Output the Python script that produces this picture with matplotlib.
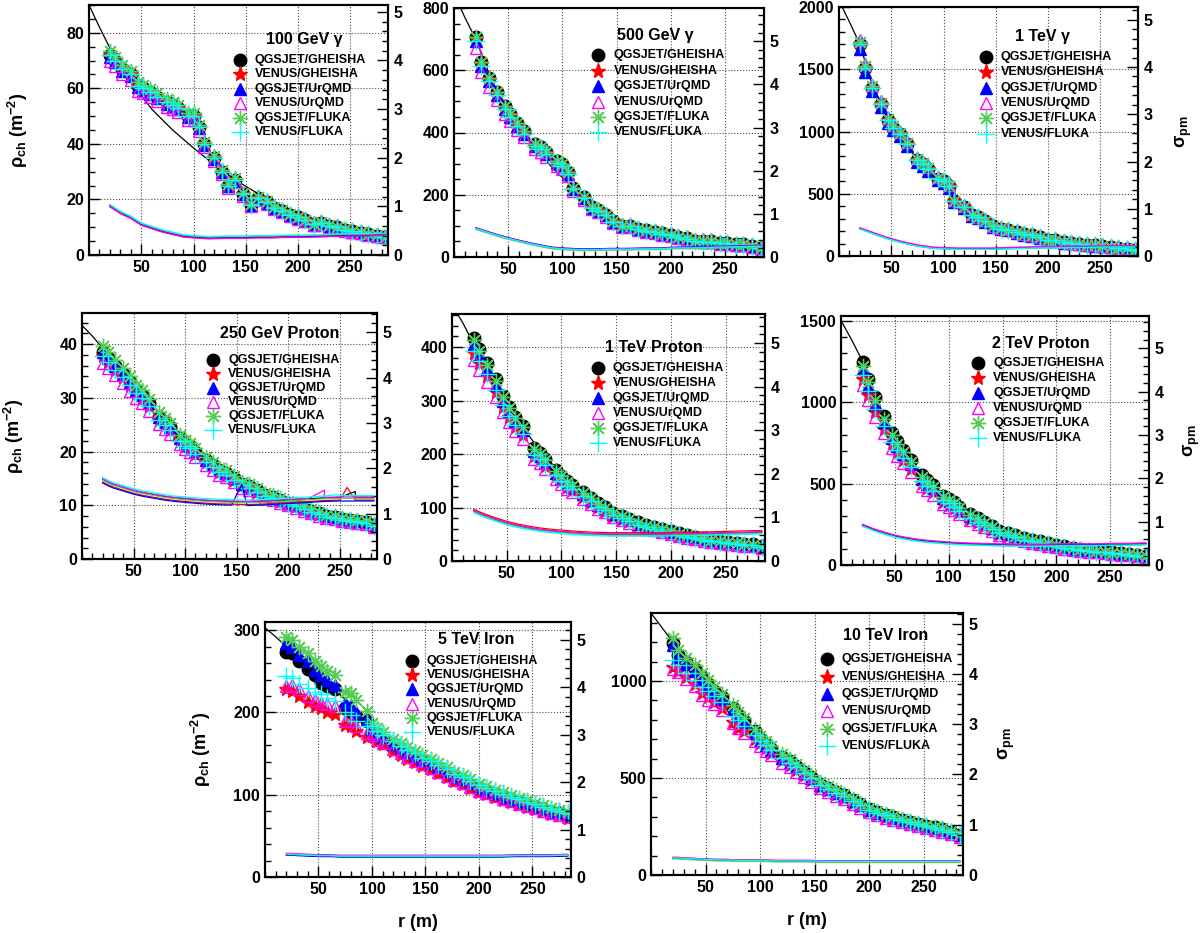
import numpy as np
import matplotlib.pyplot as plt
from matplotlib.ticker import MultipleLocator
from matplotlib.transforms import offset_copy

plt.rcParams['font.family'] = ['Liberation Sans', 'DejaVu Sans']
plt.rcParams['font.weight'] = 'bold'
plt.rcParams['mathtext.fontset'] = 'custom'
plt.rcParams['mathtext.rm'] = 'Liberation Sans:bold'
plt.rcParams['mathtext.it'] = 'Liberation Sans'
plt.rcParams['mathtext.bf'] = 'Liberation Sans:bold'

names = ['QGSJET/GHEISHA', 'VENUS/GHEISHA', 'QGSJET/UrQMD',
         'VENUS/UrQMD', 'QGSJET/FLUKA', 'VENUS/FLUKA']
colors = ['black', 'red', 'blue', 'magenta', '#55cc55', 'cyan']

# radii of the density points (m)
r_pts = [20, 25, 32, 40, 47, 52, 58, 65, 75, 80, 85, 95, 100, 105, 110, 120, 127, 133,
         140, 147, 155, 162, 170, 177, 185, 192, 200, 207, 215, 222, 230, 237, 245, 252,
         260, 267, 275, 283]
# radii of the sigma_pm curves (m)
sig_r = [20, 25, 30, 40, 50, 60, 70, 80, 90, 100, 115, 130, 145, 160, 175, 190, 205, 220,
         235, 250, 265, 283]

# ---- 100 GeV gamma
p1_rho = [72, 70, 67, 65, 61, 60, 58.5, 57, 55, 54, 53, 50, 50, 46, 40, 35, 30, 25, 27, 22,
          18, 20.5, 19, 17, 16, 14.5, 13.5, 12.5, 11, 11.5, 10.5, 10, 9, 8.5, 8, 7.5, 7, 6.5]
p1_fac = [1.0, 1.0, 0.99, 0.97, 1.02, 1.0]
p1_fit_r = [0, 10, 20, 30, 40, 50, 60, 80, 100, 120, 140, 160, 180, 200, 220, 250, 285]
p1_fit = [90, 82, 74.5, 68, 62.5, 57.5, 52.5, 45, 38.5, 32.5, 27, 22.5, 18.5, 15, 12, 9, 6.5]
p1_sig = [1.02, 0.95, 0.88, 0.78, 0.64, 0.57, 0.50, 0.45, 0.40, 0.38, 0.36, 0.37, 0.37, 0.38,
          0.38, 0.39, 0.39, 0.40, 0.41, 0.42, 0.42, 0.43]
p1_sig_off = [0, 0, -0.02, -0.03, 0.01, 0.02]

# ---- 500 GeV gamma
p2_rho = [700, 620, 570, 525, 480, 455, 425, 400, 360, 350, 335, 305, 295, 270, 220, 190, 160,
          150, 135, 115, 100, 100, 90, 85, 80, 75, 70, 65, 60, 52, 50, 50, 45, 45, 40, 40, 35, 30]
p2_fac = [1.01, 1.0, 0.99, 0.96, 1.01, 0.99]
p2_fit_r = [6, 10, 20, 30, 40, 50, 60, 70, 80, 90, 100, 120, 150, 180, 210, 250, 285]
p2_fit = [800, 770, 700, 610, 530, 465, 415, 370, 330, 290, 255, 190, 120, 85, 60, 40, 30]
p2_sig = [0.66, 0.62, 0.58, 0.50, 0.43, 0.37, 0.31, 0.26, 0.21, 0.19, 0.17, 0.17, 0.18, 0.18,
          0.19, 0.19, 0.21, 0.21, 0.22, 0.23, 0.24, 0.25]
p2_sig_off = [0, 0, 0.02, 0.01, -0.02, 0]

# ---- 1 TeV gamma
p3_rho = [1700, 1510, 1350, 1220, 1090, 1030, 980, 900, 770, 740, 700, 620, 600, 560, 440, 390,
          330, 310, 280, 240, 220, 210, 190, 175, 165, 150, 130, 125, 110, 105, 95, 90, 85, 80,
          70, 65, 60, 50]
p3_fac = [1.0, 1.0, 0.98, 1.02, 1.01, 1.0]
p3_fit_r = [3, 10, 20, 30, 40, 50, 60, 70, 80, 90, 100, 110, 120, 140, 160, 180, 200, 230, 260, 285]
p3_fit = [2000, 1880, 1700, 1420, 1220, 1060, 940, 830, 740, 660, 580, 490, 400, 290, 215, 170,
          135, 100, 70, 55]
p3_sig = [0.58, 0.54, 0.50, 0.42, 0.35, 0.29, 0.24, 0.20, 0.17, 0.16, 0.15, 0.15, 0.15, 0.16,
          0.17, 0.18, 0.18, 0.19, 0.19, 0.20, 0.20, 0.20]
p3_sig_off = [0, 0, 0, 0.02, -0.01, -0.01]

# ---- 250 GeV proton
p4_rho = [38.5, 37.5, 36, 34.5, 33, 31.5, 30.5, 29, 26.5, 25.5, 24.5, 22.5, 21.5, 21, 20, 18.5,
          17.5, 16.5, 16, 15, 14, 13.5, 12.8, 12, 11.5, 11, 10.5, 10, 9.5, 9, 8.5, 8, 7.8, 7.5,
          7.2, 7, 6.8, 6.3]
p4_fac = [1.0, 0.98, 1.0, 0.95, 1.03, 0.98]
p4_fit_r = [0, 10, 20, 30, 40, 50, 60, 70, 80, 90, 100, 120, 140, 160, 180, 200, 220, 240, 260, 285]
p4_fit = [43.5, 41.5, 39.3, 37, 34.8, 32.5, 30.3, 28.2, 26.2, 24.3, 22.5, 19.3, 16.6, 14.2, 12.2,
          10.5, 9.1, 8, 7.2, 6.3]
p4_sig = [1.74, 1.68, 1.63, 1.56, 1.49, 1.44, 1.40, 1.36, 1.33, 1.31, 1.28, 1.26, 1.25, 1.24,
          1.25, 1.27, 1.29, 1.31, 1.33, 1.34, 1.34, 1.34]
p4_sig_off = [0.02, -0.04, -0.06, 0.03, 0, 0.06]
p4_spikes = [(2, 155, 1.65), (3, 235, 1.52), (1, 257, 1.58), (0, 265, 1.49), (5, 248, 1.42)]

# ---- 1 TeV proton
p5_rho = [405, 385, 360, 330, 300, 280, 262, 245, 205, 197, 185, 165, 155, 145, 138, 125, 115,
          105, 98, 88, 82, 77, 70, 65, 62, 58, 55, 50, 47, 44, 41, 39, 36, 35, 33, 31, 30, 27]
p5_fac = [1.03, 0.96, 1.0, 0.93, 1.02, 0.97]
p5_fit_r = [5, 10, 15, 20, 30, 40, 50, 60, 70, 80, 90, 100, 120, 140, 160, 180, 200, 230, 260, 285]
p5_fit = [462, 445, 425, 405, 368, 332, 297, 265, 235, 208, 185, 163, 128, 100, 80, 63, 52, 40, 32, 26]
p5_sig = [1.15, 1.09, 1.04, 0.95, 0.87, 0.81, 0.76, 0.72, 0.69, 0.67, 0.64, 0.62, 0.61, 0.61,
          0.61, 0.61, 0.62, 0.62, 0.63, 0.64, 0.65, 0.66]
p5_sig_off = [0, 0.04, 0, 0.01, -0.02, -0.04]

# ---- 2 TeV proton
p6_rho = [1200, 1100, 990, 880, 780, 730, 680, 620, 530, 500, 470, 410, 390, 370, 340, 300, 275,
          255, 230, 200, 190, 175, 160, 150, 140, 130, 120, 110, 100, 95, 90, 85, 80, 75, 70, 65,
          60, 55]
p6_fac = [1.04, 0.95, 1.0, 0.92, 1.02, 0.97]
p6_fit_r = [0, 10, 20, 30, 40, 50, 60, 70, 80, 90, 100, 120, 140, 160, 180, 200, 230, 260, 285]
p6_fit = [1500, 1380, 1250, 1060, 920, 800, 690, 600, 520, 450, 395, 300, 235, 185, 150, 120, 90, 70, 55]
p6_sig = [0.92, 0.87, 0.82, 0.74, 0.67, 0.62, 0.58, 0.55, 0.53, 0.51, 0.49, 0.48, 0.47, 0.46,
          0.46, 0.46, 0.47, 0.47, 0.47, 0.48, 0.48, 0.49]
p6_sig_off = [0, 0.01, 0, 0.02, -0.02, -0.03]

# ---- 5 TeV iron: separate values near the core, common tail
p7_head = [
    [273, 272, 263, 253, 246, 236, 232, 228, 205, 200, 196, 190],
    [228, 226, 220, 213, 208, 205, 200, 198, 185, 183, 178, 170],
    [285, 280, 270, 262, 252, 246, 240, 234, 212, 208, 200, 192],
    [232, 233, 228, 220, 215, 212, 210, 208, 190, 190, 183, 175],
    [292, 288, 280, 272, 262, 256, 250, 245, 225, 224, 215, 202],
    [244, 242, 235, 230, 225, 222, 218, 214, 200, 197, 190, 183],
]
p7_tail = [178, 172, 168, 160, 155, 150, 146, 141, 137, 132, 127, 122, 118, 113, 108, 105, 101,
           98, 95, 92, 89, 86, 83, 80, 78, 75]
p7_fac = [0.99, 0.96, 1.01, 0.97, 1.05, 1.03]
p7_fit_r = [0, 10, 20, 30, 40, 50, 60, 70, 80, 100, 120, 150, 200, 250, 285]
p7_fit = [303, 292, 280, 268, 256, 245, 234, 222, 210, 185, 163, 138, 108, 88, 75]
p7_sig = [0.48, 0.48, 0.47, 0.46, 0.45, 0.45, 0.44, 0.44, 0.44, 0.44, 0.44, 0.44, 0.44, 0.44,
          0.44, 0.44, 0.44, 0.44, 0.45, 0.45, 0.45, 0.46]
p7_sig_off = [-0.01, 0.01, -0.02, 0.02, 0, 0]

# ---- 10 TeV iron: QGSJET values, VENUS lower near the core
p8_rho = [1195, 1135, 1098, 1063, 1022, 985, 950, 915, 858, 825, 795, 740, 700, 675, 650, 610,
          585, 560, 530, 505, 470, 450, 428, 410, 385, 365, 340, 325, 310, 298, 285, 275, 265,
          255, 245, 235, 222, 208]
p8_head = {1: [1070, 1050, 1020, 985, 940, 915, 890, 860, 790, 760, 740, 700],
           3: [1060, 1045, 1010, 975, 930, 900, 880, 850, 785, 755, 730, 690],
           5: [1110, 1080, 1040, 1005, 970, 950, 920, 890, 820, 800, 770, 720]}
p8_fac = [1.0, 0.97, 0.99, 0.95, 1.02, 0.99]
p8_fit_r = [0, 10, 20, 30, 40, 60, 80, 100, 130, 160, 200, 240, 285]
p8_fit = [1350, 1275, 1200, 1125, 1060, 940, 825, 705, 570, 455, 340, 270, 205]
p8_sig = [0.34, 0.34, 0.33, 0.32, 0.31, 0.30, 0.30, 0.29, 0.29, 0.29, 0.28, 0.28, 0.28, 0.27,
          0.27, 0.27, 0.27, 0.27, 0.27, 0.27, 0.27, 0.27]
p8_sig_off = [-0.01, 0.01, 0, 0.01, -0.02, 0]


def scaled(base, fac, head=None):
    out = [v * fac for v in base]
    if head is not None:
        out[:len(head)] = head
    return out


def rho_sets(base, facs):
    return [scaled(base, f) for f in facs]


p7_sets = [list(p7_head[i]) + [v * p7_fac[i] for v in p7_tail] for i in range(6)]
p8_sets = [scaled(p8_rho, p8_fac[i], p8_head.get(i)) for i in range(6)]

W, H = 1200, 933
fig = plt.figure(figsize=(W / 100, H / 100), dpi=100)

styles = [dict(marker='o', ms=9, mfc='black', mec='black'),
          dict(marker='*', ms=11, mfc='red', mec='red'),
          dict(marker='^', ms=9, mfc='blue', mec='blue'),
          dict(marker='^', ms=9, mfc='none', mec='magenta', mew=1.0),
          dict(marker=(8, 2, 0), ms=11, mfc='#55cc55', mec='#55cc55', mew=1.0),
          dict(marker='+', ms=13, mfc='cyan', mec='cyan', mew=1.0)]

# box in pixels: left, right, top, bottom
panels = [
    dict(box=(89, 388, 5, 255), rho=rho_sets(p1_rho, p1_fac), fit=(p1_fit_r, p1_fit),
         sig=p1_sig, soff=p1_sig_off, ylim=90, slim=5.14, maj=20, mnr=5,
         title='100 GeV γ', tpos=(0.72, 0.86), key=(0.505, 0.78, 14.4)),
    dict(box=(454, 764, 8, 257), rho=rho_sets(p2_rho, p2_fac), fit=(p2_fit_r, p2_fit),
         sig=p2_sig, soff=p2_sig_off, ylim=800, slim=5.77, maj=200, mnr=50,
         title='500 GeV γ', tpos=(0.65, 0.89), key=(0.466, 0.81, 15.4)),
    dict(box=(839, 1138, 7, 256), rho=rho_sets(p3_rho, p3_fac), fit=(p3_fit_r, p3_fit),
         sig=p3_sig, soff=p3_sig_off, ylim=2000, slim=5.27, maj=500, mnr=100,
         title='1 TeV γ', tpos=(0.68, 0.88), key=(0.49, 0.80, 15.4)),
    dict(box=(82, 377, 313, 559), rho=rho_sets(p4_rho, p4_fac), fit=(p4_fit_r, p4_fit),
         sig=p4_sig, soff=p4_sig_off, ylim=45.8, slim=5.43, maj=10, mnr=2,
         title='250 GeV Proton', tpos=(0.67, 0.915), key=(0.445, 0.81, 14.0),
         spikes=p4_spikes),
    dict(box=(452, 765, 314, 561), rho=rho_sets(p5_rho, p5_fac), fit=(p5_fit_r, p5_fit),
         sig=p5_sig, soff=p5_sig_off, ylim=462, slim=5.67, maj=100, mnr=20,
         title='1 TeV Proton', tpos=(0.645, 0.866), key=(0.466, 0.78, 15.0)),
    dict(box=(841, 1149, 316, 565), rho=rho_sets(p6_rho, p6_fac), fit=(p6_fit_r, p6_fit),
         sig=p6_sig, soff=p6_sig_off, ylim=1528, slim=5.75, maj=500, mnr=100,
         title='2 TeV Proton', tpos=(0.65, 0.89), key=(0.445, 0.81, 15.0)),
    dict(box=(265, 571, 622, 877), rho=p7_sets, fit=(p7_fit_r, p7_fit),
         sig=p7_sig, soff=p7_sig_off, ylim=310, slim=5.37, maj=100, mnr=20,
         title='5 TeV Iron', tpos=(0.69, 0.93), key=(0.48, 0.847, 14.2)),
    dict(box=(651, 963, 613, 875), rho=p8_sets, fit=(p8_fit_r, p8_fit),
         sig=p8_sig, soff=p8_sig_off, ylim=1350, slim=5.21, maj=500, mnr=100,
         title='10 TeV Iron', tpos=(0.753, 0.916), key=(0.564, 0.824, 17.4)),
]

axes = []
for p in panels:
    l, r, t, b = p['box']
    ax = fig.add_axes([l / W, 1 - b / H, (r - l) / W, (b - t) / H])
    ax2 = ax.twinx()
    axes.append((ax, ax2))

    ax.plot(p['fit'][0], p['fit'][1], color='black', lw=0.9, zorder=2)
    for i in range(6):
        ax.plot(r_pts, p['rho'][i], ls='none', zorder=3, **styles[i])

    for i in range(6):
        xs = list(sig_r)
        ys = [v + p['soff'][i] for v in p['sig']]
        for (k, rs, vs) in p.get('spikes', []):
            if k == i:
                j = int(np.searchsorted(xs, rs))
                xs.insert(j, rs)
                ys.insert(j, vs)
        ax2.plot(xs, ys, color=colors[i], lw=0.9)

    ax.set_xlim(0, 286)
    ax.set_ylim(0, p['ylim'])
    ax2.set_ylim(0, p['slim'])
    ax.xaxis.set_major_locator(MultipleLocator(50))
    ax.xaxis.set_minor_locator(MultipleLocator(10))
    ax.yaxis.set_major_locator(MultipleLocator(p['maj']))
    ax.yaxis.set_minor_locator(MultipleLocator(p['mnr']))
    ax2.yaxis.set_major_locator(MultipleLocator(1))
    ax2.yaxis.set_minor_locator(MultipleLocator(0.2))
    ax.set_xticks([50, 100, 150, 200, 250])
    ax.grid(True, which='major', ls=':', color='0.3', lw=0.8)
    ax.set_axisbelow(True)
    ax.tick_params(which='both', direction='in', top=False, right=False, labelsize=11.5)
    ax.tick_params(which='major', length=8, width=1)
    ax.tick_params(which='minor', length=4, width=1)
    ax2.tick_params(which='both', direction='in', labelsize=11.5, pad=4)
    ax2.tick_params(which='major', length=8, width=1)
    ax2.tick_params(which='minor', length=4, width=1)
    for a in (ax, ax2):
        for s in a.spines.values():
            s.set_linewidth(1.5)

    ax2.text(p['tpos'][0], p['tpos'][1], p['title'], transform=ax2.transAxes,
             ha='center', va='center', fontsize=11.5, fontweight='bold')
    mx, y0, dy = p['key']
    hpx = b - t
    for i in range(6):
        yy = y0 - i * dy / hpx
        ax2.plot([mx], [yy], transform=ax2.transAxes, clip_on=False, ls='none', **styles[i])
        ax2.text(mx, yy, names[i], fontsize=9, fontweight='bold', va='center', ha='left',
                 transform=offset_copy(ax2.transAxes, fig=fig, x=15, y=0, units='dots'))

rho_label = r'$\rho_{\mathbf{ch}}$ (m$^{\mathbf{-2}}$)'
for idx, xf in [(0, -0.197), (3, -0.19), (6, -0.17)]:
    ax = axes[idx][0]
    ax.set_ylabel(rho_label, fontsize=13, fontweight='bold')
    ax.yaxis.set_label_coords(xf, 0.5)
for idx, xf in [(2, 1.12), (5, 1.107), (7, 1.109)]:
    ax2 = axes[idx][1]
    ax2.set_ylabel(r'$\sigma_{\mathbf{pm}}$', fontsize=13, rotation=90)
    ax2.yaxis.set_label_coords(xf, 0.5)
for idx in (6, 7):
    axes[idx][0].set_xlabel('r (m)', fontsize=13, fontweight='bold', labelpad=12)

fig.savefig('out.png', dpi=100)
